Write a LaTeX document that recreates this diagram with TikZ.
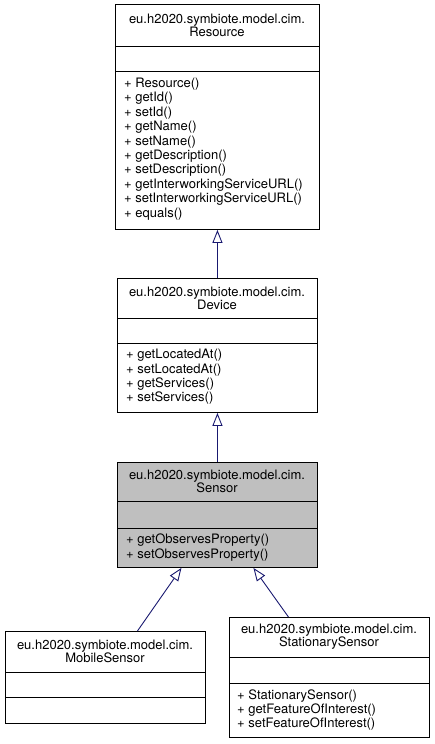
\documentclass[tikz,border=0pt]{standalone}
\usepackage{fontspec}
\setmainfont{TeX Gyre Heros}
\usetikzlibrary{arrows.meta}
\definecolor{edgeblue}{HTML}{191970}
\definecolor{sensorfill}{HTML}{BFBFBF}
\tikzset{
  box/.style={draw=black, line width=0.9pt, inner sep=0pt, anchor=north west, fill=white},
  head/.style={align=center, font=\fontsize{13}{12.8}\selectfont, inner sep=0pt},
  meth/.style={align=left, anchor=west, font=\fontsize{13}{14.4}\selectfont, inner sep=0pt},
  sepline/.style={draw=black, line width=0.9pt},
  inh/.style={draw=edgeblue, line width=0.9pt, -{Triangle[open,length=13pt,width=10pt]}},
}
\begin{document}
\begin{tikzpicture}[x=1pt,y=-1pt]
\useasboundingbox (0,0) rectangle (435,744);
% Resource
\node[box, minimum width=204pt, minimum height=225pt] (res) at (115,4) {};
\draw[sepline] (res.west |- 0,46) -- (res.east |- 0,46);
\draw[sepline] (res.west |- 0,71) -- (res.east |- 0,71);
\node[head] (resH) at (217,25) {eu.h2020.symbiote.model.cim.\\Resource};
\node[meth] (resM) at (124,149) {+ Resource()\\+ getId()\\+ setId()\\+ getName()\\+ setName()\\+ getDescription()\\+ setDescription()\\+ getInterworkingServiceURL()\\+ setInterworkingServiceURL()\\+ equals()};
% Device
\node[box, minimum width=200pt, minimum height=134pt] (dev) at (117,278) {};
\draw[sepline] (dev.west |- 0,318) -- (dev.east |- 0,318);
\draw[sepline] (dev.west |- 0,343) -- (dev.east |- 0,343);
\node[head] (devH) at (217,298) {eu.h2020.symbiote.model.cim.\\Device};
\node[meth] (devM) at (126,377) {+ getLocatedAt()\\+ setLocatedAt()\\+ getServices()\\+ setServices()};
% Sensor
\node[box, fill=sensorfill, minimum width=200pt, minimum height=105pt] (sen) at (117,462) {};
\draw[sepline] (sen.west |- 0,501) -- (sen.east |- 0,501);
\draw[sepline] (sen.west |- 0,528) -- (sen.east |- 0,528);
\node[head] (senH) at (217,481.5) {eu.h2020.symbiote.model.cim.\\Sensor};
\node[meth] (senM) at (126,547.5) {+ getObservesProperty()\\+ setObservesProperty()};
% MobileSensor
\node[box, minimum width=200pt, minimum height=92pt] (mob) at (5,631) {};
\draw[sepline] (mob.west |- 0,672) -- (mob.east |- 0,672);
\draw[sepline] (mob.west |- 0,697) -- (mob.east |- 0,697);
\node[head] (mobH) at (105,651.5) {eu.h2020.symbiote.model.cim.\\MobileSensor};
% StationarySensor
\node[box, minimum width=200pt, minimum height=120pt] (sta) at (229,617) {};
\draw[sepline] (sta.west |- 0,657) -- (sta.east |- 0,657);
\draw[sepline] (sta.west |- 0,683) -- (sta.east |- 0,683);
\node[head] (staH) at (329,637) {eu.h2020.symbiote.model.cim.\\StationarySensor};
\node[meth] (staM) at (237,710) {+ StationarySensor()\\+ getFeatureOfInterest()\\+ setFeatureOfInterest()};
% inheritance
\draw[inh] (dev.north) -- (res.south);
\draw[inh] (sen.north) -- (dev.south);
\draw[inh] ([xshift=32pt]mob.north) -- ([xshift=-36pt]sen.south);
\draw[inh] ([xshift=-41pt]sta.north) -- ([xshift=36pt]sen.south);
\end{tikzpicture}
\end{document}
